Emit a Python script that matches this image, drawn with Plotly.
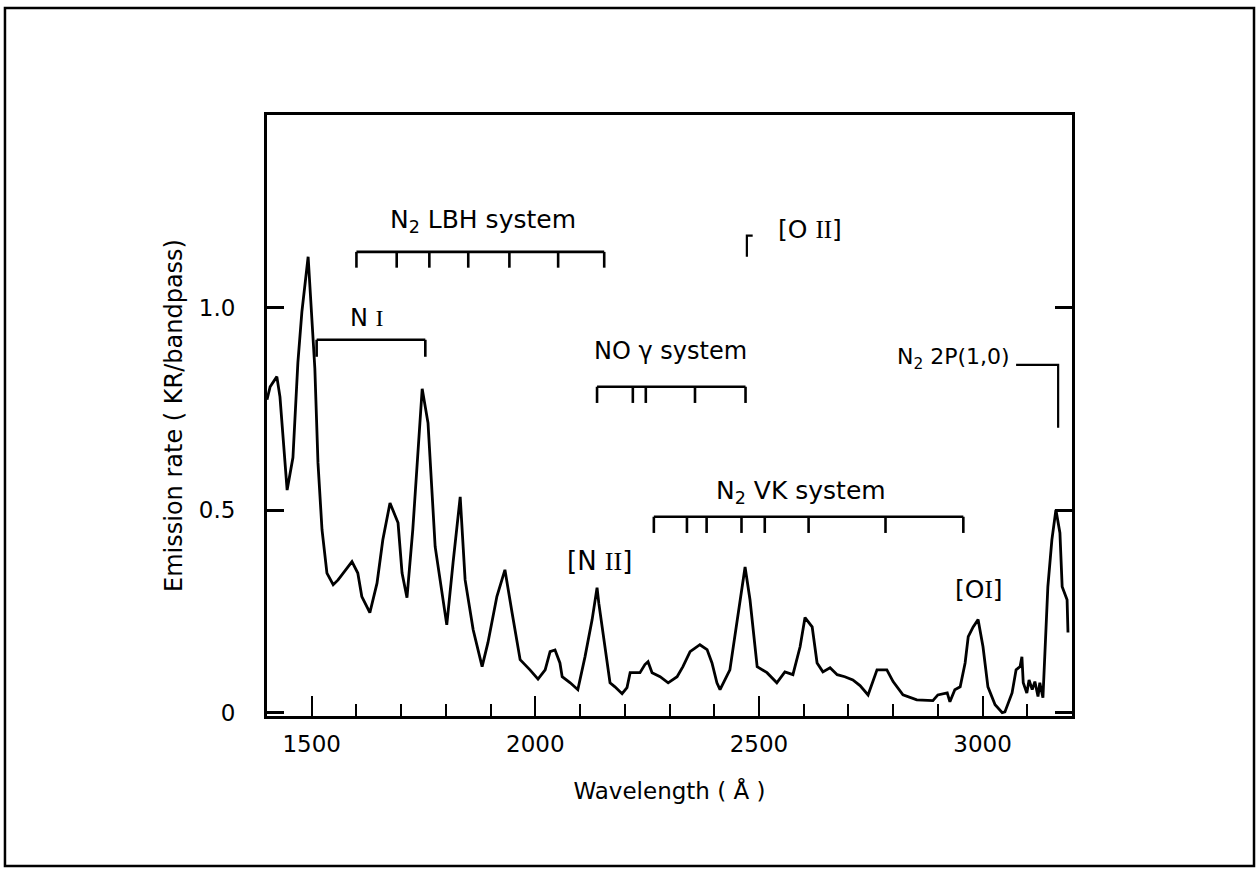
import plotly.graph_objects as go

# ---- spectrum (wavelength in Å, emission rate in kR/bandpass) ----
wavelength = [1400, 1407, 1422, 1429, 1445, 1458, 1469, 1478, 1492, 1501, 1507, 1514, 1523, 1534,
              1548, 1559, 1570, 1590, 1603, 1612, 1630, 1646, 1659, 1675, 1693, 1702, 1713, 1726,
              1747, 1760, 1776, 1802, 1816, 1832, 1843, 1861, 1881, 1894, 1914, 1932, 1948, 1966,
              1988, 2006, 2022, 2033, 2044, 2055, 2060, 2078, 2095, 2111, 2127, 2138, 2142, 2156,
              2167, 2178, 2194, 2205, 2212, 2234, 2245, 2252, 2261, 2279, 2297, 2317, 2330, 2346,
              2368, 2384, 2395, 2406, 2413, 2435, 2451, 2469, 2480, 2496, 2518, 2540, 2558, 2576,
              2592, 2603, 2619, 2630, 2643, 2659, 2675, 2692, 2710, 2726, 2744, 2764, 2786, 2800,
              2822, 2853, 2889, 2900, 2921, 2927, 2938, 2950, 2961, 2968, 2979, 2990, 3001, 3012,
              3028, 3044, 3050, 3066, 3075, 3084, 3088, 3091, 3099, 3104, 3111, 3117, 3124, 3128,
              3135, 3144, 3146, 3155, 3164, 3173, 3178, 3189, 3191]
emission = [0.773, 0.805, 0.83, 0.78, 0.55, 0.63, 0.864, 0.99, 1.126, 0.946, 0.85, 0.617, 0.452, 0.345,
            0.316, 0.328, 0.345, 0.373, 0.345, 0.287, 0.247, 0.32, 0.427, 0.518, 0.469, 0.345, 0.284, 0.452,
            0.80, 0.716, 0.41, 0.217, 0.37, 0.533, 0.328, 0.205, 0.114, 0.173, 0.287, 0.353, 0.247, 0.131,
            0.106, 0.083, 0.106, 0.151, 0.155, 0.123, 0.089, 0.074, 0.057, 0.138, 0.23, 0.309, 0.27, 0.163,
            0.074, 0.064, 0.047, 0.062, 0.099, 0.099, 0.119, 0.126, 0.099, 0.089, 0.074, 0.089, 0.114, 0.151,
            0.168, 0.156, 0.123, 0.074, 0.057, 0.106, 0.23, 0.36, 0.279, 0.114, 0.099, 0.074, 0.101, 0.094,
            0.163, 0.235, 0.212, 0.123, 0.101, 0.111, 0.094, 0.089, 0.081, 0.067, 0.044, 0.106, 0.106, 0.077,
            0.044, 0.032, 0.030, 0.044, 0.049, 0.027, 0.057, 0.064, 0.123, 0.188, 0.212, 0.23, 0.163, 0.064,
            0.02, 0.0, 0.002, 0.049, 0.106, 0.114, 0.138, 0.074, 0.049, 0.081, 0.057, 0.077, 0.04, 0.074,
            0.037, 0.247, 0.311, 0.427, 0.501, 0.444, 0.311, 0.279, 0.198]

# ---- axis ticks ----
x_tick_vals = [1500, 2000, 2500, 3000]
x_tick_text = ["1500", "2000", "2500", "3000"]
y_tick_vals = [0, 0.5, 1.0]
y_tick_text = ["0", "0.5", "1.0"]

# ---- band-system brackets: tick wavelengths, bar level, tick bottom ----
lbh_ticks = [1600, 1690, 1763, 1850, 1942, 2051, 2154]
lbh_level = [1.138, 1.099]
ni_ticks = [1511, 1754]
ni_level = [0.921, 0.879]
noy_ticks = [2138, 2218, 2247, 2357, 2470]
noy_level = [0.805, 0.765]
vk_ticks = [2265, 2339, 2383, 2461, 2513, 2611, 2783, 2957]
vk_level = [0.484, 0.444]
oii_mark = [2473, 2486, 1.126, 1.178]      # x, x-end of hook, y-bottom, y-top
n2p_mark = [3075, 3169, 0.859, 0.704]      # x-start, x, y-top, y-bottom

# ---- labels ----
SERIF = "<span style='font-family:Liberation Serif'>%s</span>"
label_text = ["N<sub>2</sub> LBH system", "N " + SERIF % "I",
              "NO γ system", "N<sub>2</sub> VK system",
              "[N " + SERIF % "II" + "]",
              "[O" + SERIF % "I" + "]",
              "[O " + SERIF % "II" + "]",
              "N<sub>2</sub> 2P(1,0)"]
label_x = [1883, 1624, 2303, 2594, 2144, 2992, 2614, 2934]
label_y = [1.215, 0.975, 0.893, 0.545, 0.375, 0.304, 1.193, 0.875]
label_size = [25, 24, 24, 25, 26, 25, 25, 22]

FONT = "DejaVu Sans"
fig = go.Figure()
fig.add_trace(go.Scatter(x=wavelength, y=emission, mode="lines",
                         line=dict(color="black", width=2.8), hoverinfo="skip",
                         showlegend=False))

def bracket(ticks, level):
    xs, ys = [], []
    xs += [ticks[0], ticks[-1], None]
    ys += [level[0], level[0], None]
    for t in ticks:
        xs += [t, t, None]
        ys += [level[0], level[1], None]
    fig.add_trace(go.Scatter(x=xs, y=ys, mode="lines", line=dict(color="black", width=2.6),
                             hoverinfo="skip", showlegend=False))

for tk, lv in [(lbh_ticks, lbh_level), (ni_ticks, ni_level), (noy_ticks, noy_level), (vk_ticks, vk_level)]:
    bracket(tk, lv)

fig.add_trace(go.Scatter(x=[oii_mark[0], oii_mark[0], oii_mark[1]],
                         y=[oii_mark[2], oii_mark[3], oii_mark[3]], mode="lines",
                         line=dict(color="black", width=2.2), hoverinfo="skip", showlegend=False))
fig.add_trace(go.Scatter(x=[n2p_mark[0], n2p_mark[1], n2p_mark[1]],
                         y=[n2p_mark[2], n2p_mark[2], n2p_mark[3]], mode="lines",
                         line=dict(color="black", width=2.2), hoverinfo="skip", showlegend=False))

for t, x, y, s in zip(label_text, label_x, label_y, label_size):
    fig.add_annotation(x=x, y=y, xref="x", yref="y", text=t, showarrow=False,
                       font=dict(family=FONT, size=s, color="black"))

# outer frame
fig.add_shape(type="rect", xref="paper", yref="paper", x0=-0.3255, x1=1.2261, y0=-0.2496, y1=1.178,
              line=dict(color="black", width=2.5), layer="below")

fig.update_layout(
    width=1258, height=870,
    margin=dict(l=267, r=186, t=115, b=154),
    paper_bgcolor="white", plot_bgcolor="white",
    font=dict(family=FONT, size=22, color="black"),
    xaxis=dict(range=[1400, 3200], tickmode="array", tickvals=x_tick_vals, ticktext=x_tick_text,
               ticks="inside", ticklen=20, tickwidth=2, tickcolor="black",
               tickfont=dict(family=FONT, size=23),
               minor=dict(dtick=100, tick0=1400, ticks="inside", ticklen=12, tickwidth=2, tickcolor="black"),
               showline=True, linewidth=3, linecolor="black", mirror=True, showgrid=False, zeroline=False,
               ticklabelstandoff=5,
               title=dict(text="Wavelength ( Å )", standoff=28, font=dict(family=FONT, size=23))),
    yaxis=dict(range=[-0.008, 1.476], tickmode="array", tickvals=y_tick_vals, ticktext=y_tick_text,
               ticks="inside", ticklen=17, tickwidth=2.5, tickcolor="black",
               tickfont=dict(family=FONT, size=23),
               showline=True, linewidth=3, linecolor="black", mirror="ticks", showgrid=False, zeroline=False,
               ticklabelstandoff=24,
               title=dict(text="Emission rate ( KR/bandpass)", standoff=10, font=dict(family=FONT, size=24))),
)

fig.write_html("out.html")
